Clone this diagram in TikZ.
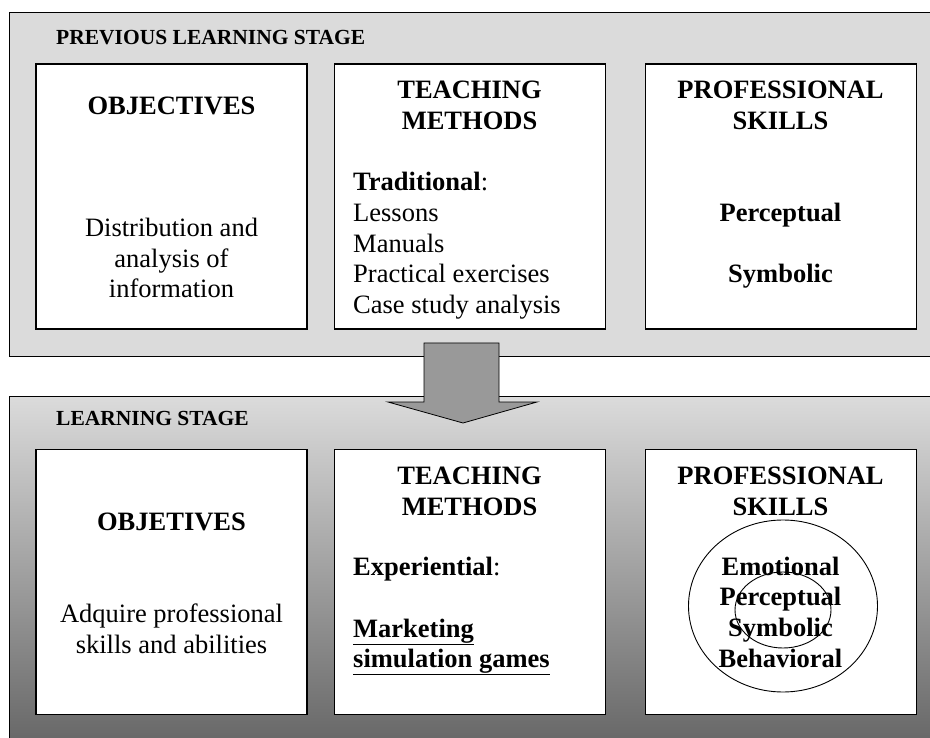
\documentclass[tikz,border=0pt]{standalone}
\usepackage{fontspec}
\setmainfont{Liberation Serif}
\usepackage{tikz}
\usetikzlibrary{positioning}

\definecolor{stagegray}{gray}{0.86}
\definecolor{darkstage}{gray}{0.38}
\definecolor{arrowgray}{gray}{0.6}

\begin{document}
\begin{tikzpicture}[x=1pt, y=-1pt, node distance=26pt]

  \tikzstyle{stage}=[draw=black, line width=1.1pt, inner sep=0pt, minimum width=936pt, anchor=north west]
  \tikzstyle{panel}=[draw=black, fill=white, line width=1.1pt, minimum width=271pt, minimum height=265pt, inner sep=0pt]
  \tikzstyle{head}=[inner sep=0pt, anchor=base, font=\fontsize{26.5}{30.5}\selectfont\bfseries]
  \tikzstyle{body}=[inner sep=0pt, anchor=base, font=\fontsize{26.5}{30.5}\selectfont]
  \tikzstyle{title}=[inner sep=0pt, anchor=base west, font=\fontsize{21.5}{25}\selectfont\bfseries]

  \useasboundingbox (0,0) rectangle (930,738);
  \clip (0,0) rectangle (930,738);

  % the two stages
  \node[stage, fill=stagegray, minimum height=344pt] (prev) at (9,12) {};
  \node[stage, top color=stagegray, bottom color=darkstage, minimum height=364pt] (learn) at (9,396) {};

  \node[title] (prevtitle) at (56,45) {PREVIOUS LEARNING STAGE};
  \node[title] (learntitle) at (56,425) {LEARNING STAGE};

  % panels
  \node[panel] (pobj) at (171.5,196.5) {};
  \node[panel] (pmeth) [right=26pt of pobj] {};
  \node[panel] (pskill) [right=39pt of pmeth] {};
  \node[panel] (lobj) [below=119pt of pobj] {};
  \node[panel] (lmeth) [right=26pt of lobj] {};
  \node[panel] (lskill) [right=39pt of lmeth] {};

  % previous stage texts
  \node[head] (pobjhead) at (171.5,115) {OBJECTIVES};
  \node[head] (pmethhead) at (469.5,99) {TEACHING};
  \node[head] (pmethhead2) at (469.5,130) {METHODS};
  \node[head] (pskillhead) at (780.5,99) {PROFESSIONAL};
  \node[head] (pskillhead2) at (780.5,130) {SKILLS};

  \foreach \line [count=\i from 0] in {Distribution and, analysis of, information}
    \node[body] (pobjtext\i) at (171.5,237+30.5*\i) {\line};

  \node[body, anchor=base west] (trad) at (353,191) {\textbf{Traditional}:};
  \foreach \line [count=\i from 0] in {Lessons, Manuals, Practical exercises, Case study analysis}
    \node[body, anchor=base west] (pmethtext\i) at (353,222+30.5*\i) {\line};

  \node[head] (percept) at (780.5,222) {Perceptual};
  \node[head] (symb) at (780.5,283) {Symbolic};

  % learning stage texts
  \node[head] (lobjhead) at (171.5,530) {OBJETIVES};
  \node[head] (lmethhead) at (469.5,484) {TEACHING};
  \node[head] (lmethhead2) at (469.5,515) {METHODS};
  \node[head] (lskillhead) at (780.5,484) {PROFESSIONAL};
  \node[head] (lskillhead2) at (780.5,515) {SKILLS};

  \node[body] (lobjtext) at (171.5,622) {Adquire professional};
  \node[body] (lobjtext2) at (171.5,653) {skills and abilities};

  \node[body, anchor=base west] (exper) at (353,575) {\textbf{Experiential}:};
  \node[body, anchor=base west] (market) at (353,637) {\textbf{\underline{Marketing}}};
  \node[body, anchor=base west] (simgames) at (353,667) {\textbf{\underline{simulation games}}};

  % nested skills
  \draw[line width=0.9pt] (783,606) ellipse [x radius=94.5, y radius=86];
  \draw[line width=0.9pt] (783,610) ellipse [x radius=48, y radius=38];
  \foreach \skill [count=\i from 0] in {Emotional, Perceptual, Symbolic, Behavioral}
    \node[head] (skill\i) at (780.5,575+30.7*\i) {\skill};

  % stage transition arrow
  \draw[fill=arrowgray, line width=0.8pt, line join=miter]
    (424,343) -- (499,343) -- (499,402) -- (537,402) -- (463,423)
    -- (388,402) -- (424,402) -- cycle;

\end{tikzpicture}
\end{document}
